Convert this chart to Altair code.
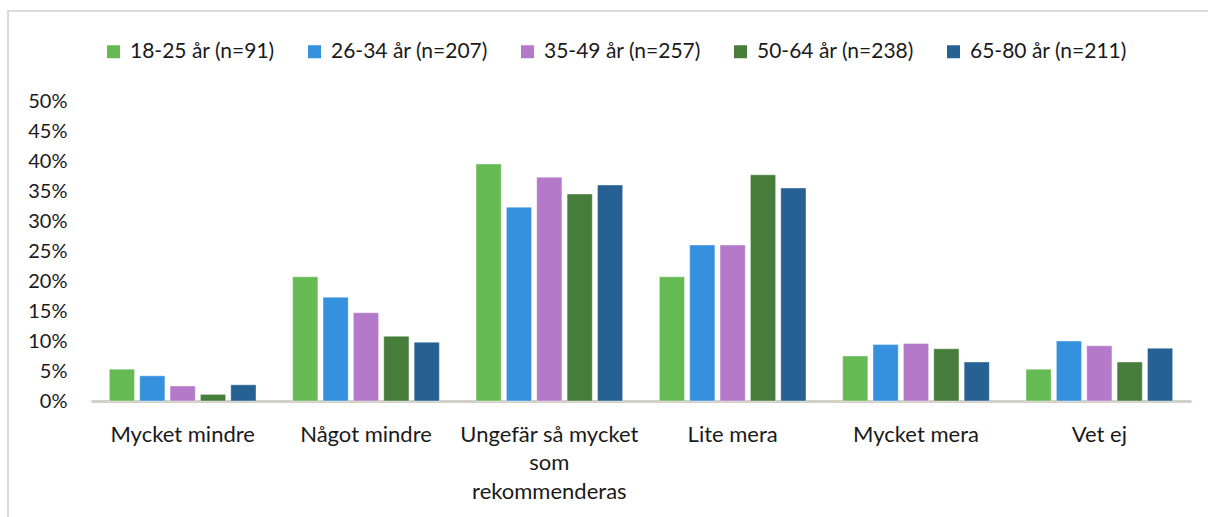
import altair as alt
import pandas as pd

categories = [
    "Mycket mindre",
    "Något mindre",
    "Ungefär så mycket som rekommenderas",
    "Lite mera",
    "Mycket mera",
    "Vet ej",
]
groups = [
    "18-25 år (n=91)",
    "26-34 år (n=207)",
    "35-49 år (n=257)",
    "50-64 år (n=238)",
    "65-80 år (n=211)",
]
colors = ["#66ba54", "#3590de", "#b479c9", "#477d3b", "#276092"]

# share of respondents (%) per category, one list per age group
v_18_25 = [5.3, 20.7, 39.5, 20.7, 7.5, 5.3]
v_26_34 = [4.2, 17.3, 32.3, 26.0, 9.4, 10.0]
v_35_49 = [2.5, 14.7, 37.3, 26.0, 9.6, 9.2]
v_50_64 = [1.1, 10.8, 34.5, 37.7, 8.7, 6.5]
v_65_80 = [2.7, 9.8, 36.0, 35.5, 6.5, 8.8]

series = [v_18_25, v_26_34, v_35_49, v_50_64, v_65_80]
rows = []
for g, vals in zip(groups, series):
    for c, v in zip(categories, vals):
        rows.append({"kategori": c, "grupp": g, "andel": v / 100})
df = pd.DataFrame(rows)

FONT = "Lato"
TEXT = "#1a1a1a"

bars = alt.Chart(df).mark_bar(stroke="white", strokeOpacity=0.4, strokeWidth=1).encode(
    x=alt.X(
        "kategori:N",
        sort=categories,
        scale=alt.Scale(paddingInner=0.2, paddingOuter=0.1),
        axis=alt.Axis(
            title=None,
            labelAngle=0,
            ticks=False,
            labelPadding=23,
            labelFontSize=22,
            labelLineHeight=28.5,
            labelColor=TEXT,
            labelFont=FONT,
            domainColor="#d3d0c8",
            domainWidth=3,
            labelExpr="datum.value == 'Ungefär så mycket som rekommenderas' ? ['Ungefär så mycket', 'som', 'rekommenderas'] : datum.value",
        ),
    ),
    xOffset=alt.XOffset("grupp:N", sort=groups, scale=alt.Scale(paddingInner=0.17)),
    y=alt.Y(
        "andel:Q",
        scale=alt.Scale(domain=[0, 0.5], nice=False),
        axis=alt.Axis(
            title=None,
            format=".0%",
            values=[i / 100 for i in range(0, 51, 5)],
            grid=False,
            ticks=False,
            domain=False,
            labelPadding=24,
            labelFontSize=20,
            labelColor=TEXT,
            labelFont=FONT,
        ),
    ),
    color=alt.Color(
        "grupp:N",
        sort=groups,
        scale=alt.Scale(domain=groups, range=colors),
        legend=alt.Legend(
            title=None,
            orient="none",
            direction="horizontal",
            legendX=12,
            legendY=-60,
            symbolType="square",
            symbolSize=169,
            symbolStrokeWidth=0,
            labelFontSize=21,
            labelFont=FONT,
            labelColor=TEXT,
            columnPadding=29,
            labelOffset=6,
        ),
    ),
)

# light frame around the whole chart
frame = alt.Chart(pd.DataFrame({"f": [0]})).mark_rect(
    fill=None, stroke="#dcdcd4", strokeWidth=2
).encode(
    x=alt.value(-83),
    x2=alt.value(1125),
    y=alt.value(-90),
    y2=alt.value(440),
)

chart = alt.layer(frame, bars).properties(
    width=1100,
    height=300,
    background="white",
    autosize=alt.AutoSizeParams(type="none"),
    padding={"left": 91, "top": 101, "right": 17, "bottom": 116},
).configure_view(strokeWidth=0, stroke="transparent")

chart.save("out.html", embed_options={"renderer": "svg", "actions": False})
